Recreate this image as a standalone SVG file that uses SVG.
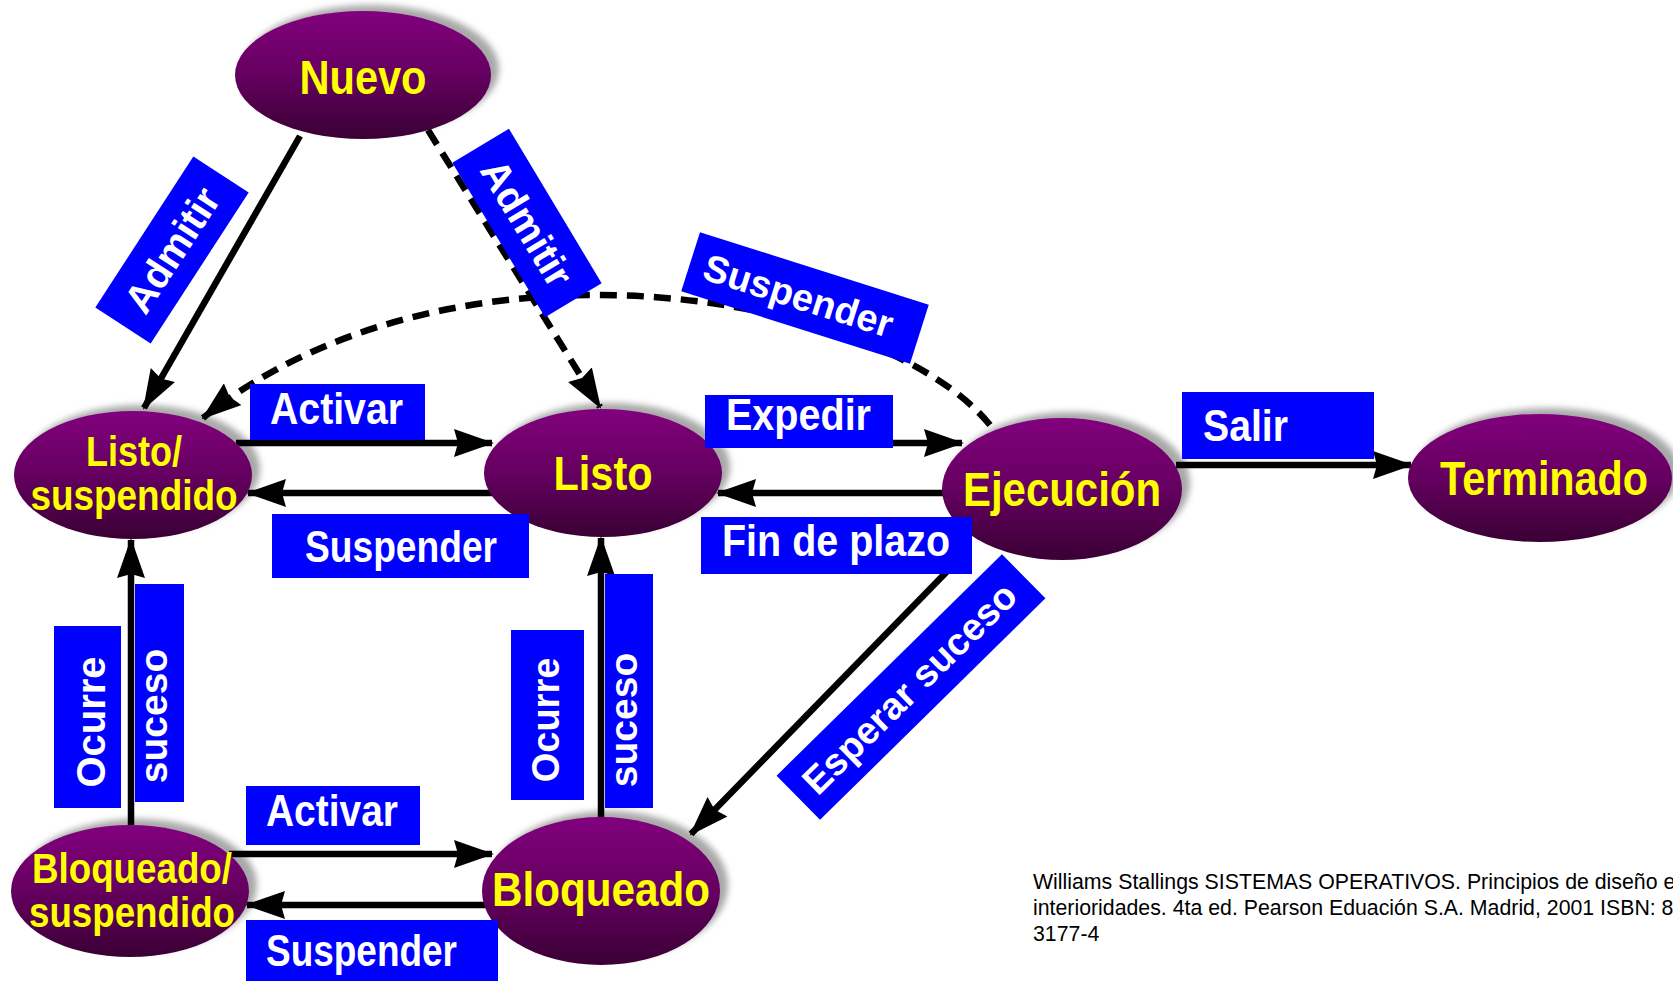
<svg xmlns="http://www.w3.org/2000/svg" width="1673" height="981" viewBox="0 0 1673 981">
<style>
.bg{fill:#ffffff}
.node{fill:url(#ng)}
.shadow{fill:#a8a8a8;filter:url(#blur)}
.ntext{font-family:"Liberation Sans",Arial,sans-serif;font-weight:bold;fill:#ffff00;text-anchor:middle}
.edge{stroke:#000;stroke-width:6.5;fill:none;marker-end:url(#arr)}
.dash{stroke-dasharray:17 10}
.lbox{fill:#0000ff}
.ltext{font-family:"Liberation Sans",Arial,sans-serif;font-weight:bold;fill:#ffffff}
.cite{font-family:"Liberation Sans",Arial,sans-serif;font-size:21.3px;fill:#000}
</style>
<defs>
<linearGradient id="ng" x1="0" y1="0" x2="0" y2="1">
<stop offset="0" stop-color="#82007e"/>
<stop offset="0.5" stop-color="#650060"/>
<stop offset="1" stop-color="#3a0034"/>
</linearGradient>
<filter id="blur" x="-20%" y="-20%" width="140%" height="140%"><feGaussianBlur stdDeviation="3"/></filter>
<marker id="arr" viewBox="0 0 40 28" refX="38" refY="14" markerWidth="40" markerHeight="28" markerUnits="userSpaceOnUse" orient="auto">
<path d="M0,0 L40,14 L0,28 L4,14 Z" fill="#000"/>
</marker>
</defs>
<rect class="bg" x="0" y="0" width="1673" height="981"/>

<g id="shadows">
<ellipse class="shadow" cx="371" cy="69" rx="128" ry="64"/>
<ellipse class="shadow" cx="141" cy="469" rx="119" ry="64"/>
<ellipse class="shadow" cx="611" cy="467" rx="119" ry="64"/>
<ellipse class="shadow" cx="1070" cy="483" rx="120" ry="71"/>
<ellipse class="shadow" cx="1548" cy="472" rx="132" ry="64"/>
<ellipse class="shadow" cx="138" cy="885" rx="119" ry="66"/>
<ellipse class="shadow" cx="609" cy="885" rx="119" ry="74"/>
</g>

<g id="connectors">
<line class="edge" x1="300" y1="136" x2="144" y2="408"/>
<line class="edge dash" x1="428" y1="130" x2="600" y2="407"/>
<path class="edge dash" d="M990,425 C880,290 450,220 203,418"/>
<line class="edge" x1="236" y1="443" x2="492" y2="443"/>
<line class="edge" x1="492" y1="493" x2="248" y2="493"/>
<line class="edge" x1="708" y1="443" x2="962" y2="443"/>
<line class="edge" x1="946" y1="493" x2="718" y2="493"/>
<line class="edge" x1="1176" y1="465" x2="1411" y2="465"/>
<line class="edge" x1="966" y1="552" x2="691" y2="834"/>
<line class="edge" x1="131" y1="825" x2="131" y2="540"/>
<line class="edge" x1="601" y1="818" x2="601" y2="538"/>
<line class="edge" x1="229" y1="854" x2="492" y2="854"/>
<line class="edge" x1="486" y1="905" x2="247" y2="905"/>
</g>

<g id="node-nuevo">
<ellipse class="node" cx="363" cy="75" rx="128" ry="64"/>
<text class="ntext" x="363" y="94" font-size="48" textLength="127" lengthAdjust="spacingAndGlyphs">Nuevo</text>
</g>
<g id="node-listo-suspendido">
<ellipse class="node" cx="133" cy="475" rx="119" ry="64"/>
<text class="ntext" x="134" y="466" font-size="42" textLength="96" lengthAdjust="spacingAndGlyphs">Listo/</text>
<text class="ntext" x="134" y="510" font-size="42" textLength="207" lengthAdjust="spacingAndGlyphs">suspendido</text>
</g>
<g id="node-listo">
<ellipse class="node" cx="603" cy="473" rx="119" ry="64"/>
<text class="ntext" x="603" y="490" font-size="48" textLength="99" lengthAdjust="spacingAndGlyphs">Listo</text>
</g>
<g id="node-ejecucion">
<ellipse class="node" cx="1062" cy="489" rx="120" ry="71"/>
<text class="ntext" x="1062" y="506" font-size="48" textLength="198" lengthAdjust="spacingAndGlyphs">Ejecución</text>
</g>
<g id="node-terminado">
<ellipse class="node" cx="1540" cy="478" rx="132" ry="64"/>
<text class="ntext" x="1544" y="495" font-size="48" textLength="208" lengthAdjust="spacingAndGlyphs">Terminado</text>
</g>
<g id="node-bloqueado-suspendido">
<ellipse class="node" cx="130" cy="891" rx="119" ry="66"/>
<text class="ntext" x="132" y="883" font-size="43" textLength="200" lengthAdjust="spacingAndGlyphs">Bloqueado/</text>
<text class="ntext" x="132" y="927" font-size="43" textLength="206" lengthAdjust="spacingAndGlyphs">suspendido</text>
</g>
<g id="node-bloqueado">
<ellipse class="node" cx="601" cy="891" rx="119" ry="74"/>
<text class="ntext" x="601" y="906" font-size="48" textLength="218" lengthAdjust="spacingAndGlyphs">Bloqueado</text>
</g>

<g id="labels">
<g transform="translate(172,250) rotate(-57)">
<rect class="lbox" x="-90" y="-33" width="180" height="66"/>
<text class="ltext" x="0" y="14" font-size="40" text-anchor="middle">Admitir</text>
</g>
<g transform="translate(527,223) rotate(59)">
<rect class="lbox" x="-90" y="-33" width="180" height="66"/>
<text class="ltext" x="0" y="14" font-size="40" text-anchor="middle">Admitir</text>
</g>
<g transform="translate(805,298) rotate(17.6)">
<rect class="lbox" x="-120" y="-31" width="240" height="62"/>
<text class="ltext" x="-7" y="13" font-size="38" text-anchor="middle">Suspender</text>
</g>
<g transform="translate(911,687) rotate(-44.5)">
<rect class="lbox" x="-158" y="-31" width="316" height="62"/>
<text class="ltext" x="-2" y="13" font-size="38" text-anchor="middle">Esperar suceso</text>
</g>
<rect class="lbox" x="250" y="384" width="175" height="56"/>
<text class="ltext" x="270" y="424" font-size="44" textLength="133" lengthAdjust="spacingAndGlyphs">Activar</text>
<rect class="lbox" x="272" y="514" width="257" height="64"/>
<text class="ltext" x="305" y="562" font-size="44" textLength="192" lengthAdjust="spacingAndGlyphs">Suspender</text>
<rect class="lbox" x="705" y="395" width="188" height="53"/>
<text class="ltext" x="726" y="430" font-size="44" textLength="145" lengthAdjust="spacingAndGlyphs">Expedir</text>
<rect class="lbox" x="701" y="517" width="271" height="57"/>
<text class="ltext" x="722" y="556" font-size="44" textLength="228" lengthAdjust="spacingAndGlyphs">Fin de plazo</text>
<rect class="lbox" x="1182" y="392" width="192" height="67"/>
<text class="ltext" x="1203" y="441" font-size="44" textLength="85" lengthAdjust="spacingAndGlyphs">Salir</text>
<rect class="lbox" x="246" y="786" width="174" height="59"/>
<text class="ltext" x="266" y="826" font-size="44" textLength="132" lengthAdjust="spacingAndGlyphs">Activar</text>
<rect class="lbox" x="246" y="920" width="252" height="61"/>
<text class="ltext" x="266" y="966" font-size="44" textLength="191" lengthAdjust="spacingAndGlyphs">Suspender</text>
<rect class="lbox" x="54" y="626" width="67" height="182"/>
<text class="ltext" transform="translate(105,722) rotate(-90)" x="0" y="0" font-size="40" text-anchor="middle">Ocurre</text>
<rect class="lbox" x="135" y="584" width="49" height="218"/>
<text class="ltext" transform="translate(167,716) rotate(-90)" x="0" y="0" font-size="39" text-anchor="middle">suceso</text>
<rect class="lbox" x="511" y="630" width="73" height="170"/>
<text class="ltext" transform="translate(559,720) rotate(-90)" x="0" y="0" font-size="38" text-anchor="middle">Ocurre</text>
<rect class="lbox" x="605" y="574" width="48" height="234"/>
<text class="ltext" transform="translate(637,720) rotate(-90)" x="0" y="0" font-size="39" text-anchor="middle">suceso</text>
</g>

<g id="citation">
<text class="cite" x="1033" y="889">Williams Stallings SISTEMAS OPERATIVOS. Principios de diseño e</text>
<text class="cite" x="1033" y="915">interioridades. 4ta ed. Pearson Eduación S.A. Madrid, 2001 ISBN: 8</text>
<text class="cite" x="1033" y="941">3177-4</text>
</g>
</svg>
